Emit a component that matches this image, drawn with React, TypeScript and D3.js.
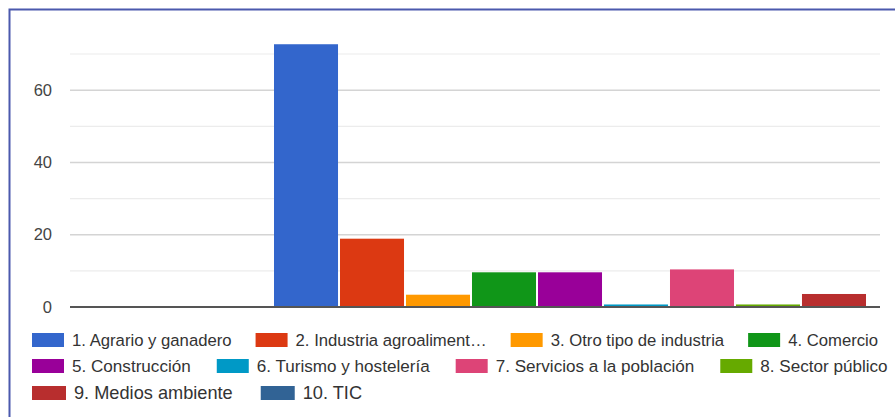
import React, { useEffect, useRef } from 'react';
import * as d3 from 'd3';

// series labels (as they appear in the legend) and values
const SERIES = [
  '1. Agrario y ganadero',
  '2. Industria agroaliment…',
  '3. Otro tipo de industria',
  '4. Comercio',
  '5. Construcción',
  '6. Turismo y hostelería',
  '7. Servicios a la población',
  '8. Sector público',
  '9. Medios ambiente',
  '10. TIC',
];
const VALUES = [72.7, 18.9, 3.4, 9.6, 9.6, 0.7, 10.4, 0.7, 3.6, 0];
const COLORS = [
  '#3366cc', '#dc3912', '#ff9900', '#109618', '#990099',
  '#0099c6', '#dd4477', '#66aa00', '#b82e2e', '#316395',
];
const MAJOR_TICKS = [0, 20, 40, 60];
const MINOR_TICKS = [10, 30, 50, 70];
const LEGEND_ROWS = [[0, 1, 2, 3], [4, 5, 6, 7], [8, 9]];

const W = 895;
const H = 417;
const FONT = '"Liberation Sans", Arial, sans-serif';

const App: React.FC = () => {
  const svgRef = useRef<SVGSVGElement>(null);

  useEffect(() => {
    if (!svgRef.current) return;
    const svg = d3.select(svgRef.current);
    svg.selectAll('*').remove();

    const plot = { left: 70, right: 880, top: 54, bottom: 307 };

    const y = d3.scaleLinear().domain([0, 70]).range([plot.bottom, plot.top]);
    // the group of bars is wider than the plot and runs off its right edge
    const x = d3
      .scaleBand<string>()
      .domain(SERIES)
      .range([274, 274 + SERIES.length * 65.8])
      .paddingInner(0.03)
      .paddingOuter(0);

    svg.append('rect').attr('width', W).attr('height', H).attr('fill', '#fff');

    // frame
    svg
      .append('path')
      .attr('d', `M9.5,${H + 5}V9.5H${W + 5}`)
      .attr('fill', 'none')
      .attr('stroke', '#4b59ad')
      .attr('stroke-width', 2);

    svg
      .append('defs')
      .append('clipPath')
      .attr('id', 'plot-clip')
      .append('rect')
      .attr('x', plot.left)
      .attr('y', 0)
      .attr('width', plot.right - plot.left)
      .attr('height', plot.bottom + 2);

    // gridlines
    svg
      .selectAll('.minor')
      .data(MINOR_TICKS)
      .enter()
      .append('line')
      .attr('x1', plot.left)
      .attr('x2', plot.right)
      .attr('y1', (d) => y(d))
      .attr('y2', (d) => y(d))
      .attr('stroke', '#ececec')
      .attr('stroke-width', 1.2);

    svg
      .selectAll('.major')
      .data(MAJOR_TICKS.filter((d) => d !== 0))
      .enter()
      .append('line')
      .attr('x1', plot.left)
      .attr('x2', plot.right)
      .attr('y1', (d) => y(d))
      .attr('y2', (d) => y(d))
      .attr('stroke', '#d4d4d4')
      .attr('stroke-width', 1.5);

    svg
      .selectAll('.ylab')
      .data(MAJOR_TICKS)
      .enter()
      .append('text')
      .attr('x', 52)
      .attr('y', (d) => y(d))
      .attr('dy', '0.35em')
      .attr('text-anchor', 'end')
      .attr('font-family', FONT)
      .attr('font-size', 16.5)
      .attr('fill', '#444')
      .text((d) => d);

    // bars
    svg
      .append('g')
      .attr('clip-path', 'url(#plot-clip)')
      .selectAll('rect')
      .data(SERIES)
      .enter()
      .append('rect')
      .attr('x', (d) => x(d)!)
      .attr('width', x.bandwidth())
      .attr('y', (d, i) => y(VALUES[i]))
      .attr('height', (d, i) => y(0) - y(VALUES[i]))
      .attr('fill', (d, i) => COLORS[i]);

    // baseline
    svg
      .append('line')
      .attr('x1', plot.left)
      .attr('x2', plot.right)
      .attr('y1', y(0))
      .attr('y2', y(0))
      .attr('stroke', '#555')
      .attr('stroke-width', 2);

    // legend, laid out as a flow inside fixed rows
    // (the source screenshot renders the rows at slightly different sizes)
    const rows = [
      { y: 340, size: 16.7, sw: 32, gap: 24 },
      { y: 366, size: 17.1, sw: 32, gap: 26 },
      { y: 393, size: 18.2, sw: 34, gap: 28 },
    ];
    LEGEND_ROWS.forEach((row, r) => {
      const R = rows[r];
      let cx = 32;
      row.forEach((i) => {
        const g = svg.append('g');
        g.append('rect')
          .attr('x', cx)
          .attr('y', R.y - 7)
          .attr('width', R.sw)
          .attr('height', 14)
          .attr('fill', COLORS[i]);
        const t = g
          .append('text')
          .attr('x', cx + R.sw + 8)
          .attr('y', R.y)
          .attr('dy', '0.35em')
          .attr('font-family', FONT)
          .attr('font-size', R.size)
          .attr('fill', '#333')
          .text(SERIES[i]);
        const w = (t.node() as SVGTextElement).getComputedTextLength();
        cx += R.sw + 8 + w + R.gap;
      });
    });
  }, []);

  return (
    <svg
      ref={svgRef}
      width={W}
      height={H}
      style={{ position: 'absolute', top: 0, left: 0, display: 'block' }}
    />
  );
};

export default App;
